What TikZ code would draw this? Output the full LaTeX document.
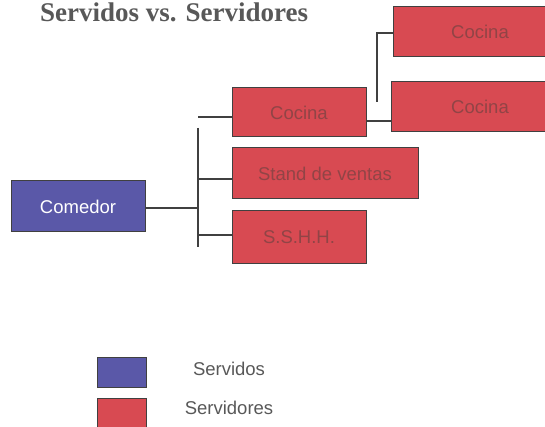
\documentclass[tikz,border=0pt]{standalone}
\usepackage{fontspec}
\setmainfont{Liberation Serif}
\setsansfont{Liberation Sans}
\usetikzlibrary{positioning}
\definecolor{servidoblue}{RGB}{90,88,168}
\definecolor{servidorred}{RGB}{216,74,82}
\definecolor{labelred}{RGB}{145,68,70}
\definecolor{titlegray}{RGB}{88,88,88}

\begin{document}
\begin{tikzpicture}[x=1pt, y=-1pt,
    box/.style={draw=black!75, line width=1pt, inner sep=0pt,
      font=\sffamily\fontsize{18.5}{20}\selectfont},
    servido/.style={box, fill=servidoblue, text=white},
    servidor/.style={box, fill=servidorred, text=labelred},
    link/.style={draw=black!75, line width=1.2pt},
    keytext/.style={text=titlegray, font=\sffamily\fontsize{18.5}{20}\selectfont}]
    \useasboundingbox (0,0) rectangle (545,427);
    \clip (0,0) rectangle (545,427);

    % Title
    \node[anchor=base west, text=titlegray, font=\bfseries\fontsize{27}{30}\selectfont,
      inner sep=0pt] (title) at (40,21.5) {Servidos vs. Servidores};

    % Served
    \node[servido, minimum width=134pt, minimum height=51pt] (comedor) at (78,206.5) {Comedor};

    % Servers
    \node[servidor, minimum width=134pt, minimum height=49pt] (cocina) at (299,112.5) {Cocina};
    \node[servidor, minimum width=186pt, minimum height=51pt] (stand) at (325,173.5) {Stand de ventas};
    \node[servidor, minimum width=134pt, minimum height=52pt] (sshh) at (299,237) {S.S.H.H.};
    \node[servidor, minimum width=174pt, minimum height=50pt] (cocinaA) at (480,32) {Cocina};
    \node[servidor, minimum width=178pt, minimum height=50pt] (cocinaB) at (480,107) {Cocina};

    % Trunk from the dining room
    \coordinate (trunkTop) at (198,128);
    \coordinate (trunkBot) at (198,247);
    \coordinate (stubCocina) at (198,117);
    \draw[link] (trunkTop) -- (trunkBot);
    \draw[link] (comedor.east |- 0,208) -- (198,208);
    \draw[link] (stubCocina) -- (cocina.west |- stubCocina);
    \draw[link] (198,179) -- (stand.west |- 0,179);
    \draw[link] (198,235) -- (sshh.west |- 0,235);

    % Branch from the kitchen
    \coordinate (branchTop) at (377,33);
    \coordinate (branchBot) at (377,102);
    \draw[link] (cocina.east |- 0,121) -- (cocinaB.west |- 0,121);
    \draw[link] (branchBot) -- (branchTop) -- (cocinaA.west |- branchTop);

    % Legend
    \node[servido, minimum width=49pt, minimum height=30pt] (keyServido) at (121.5,372) {};
    \node[servidor, minimum width=49pt, minimum height=32pt] (keyServidor) at (121.5,414) {};
    \node[keytext] (txtServido) at (229,369) {Servidos};
    \node[keytext] (txtServidor) at (229,408) {Servidores};
\end{tikzpicture}
\end{document}
